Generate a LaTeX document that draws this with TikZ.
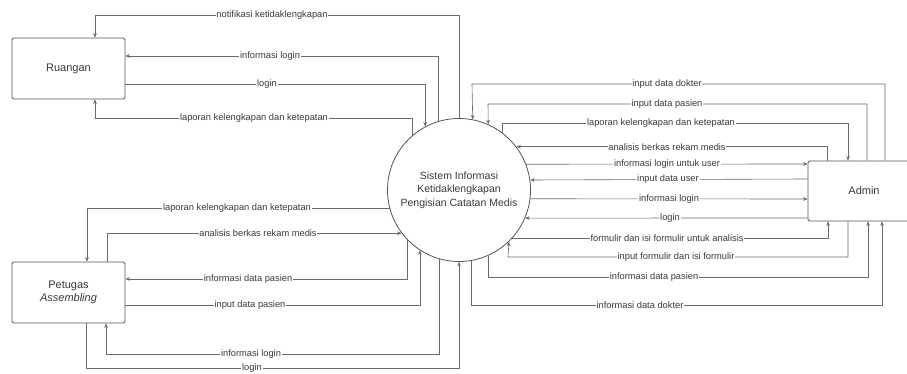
\documentclass[tikz,border=0pt]{standalone}
\usepackage{fontspec}
\setmainfont{Liberation Sans}
\usetikzlibrary{arrows.meta}
\definecolor{ln}{HTML}{6A6A6A}
\definecolor{tx}{HTML}{3A3A3A}
\definecolor{bd}{HTML}{555555}
\tikzset{
  ent/.style={draw=bd, line width=0.8pt, rounded corners=1.5pt, fill=white, minimum width=113pt, minimum height=61pt, text=tx, font=\fontsize{11}{13}\selectfont, align=center, inner sep=0pt},
  proc/.style={draw=bd, line width=0.8pt, circle, minimum size=143pt, inner sep=0pt, text=tx, font=\fontsize{10.5}{13.5}\selectfont, align=center},
  flow/.style={draw=ln, line width=0.6pt},
  arr/.style={flow, -{Stealth[length=4.5pt,width=3.6pt]}},
  lbl/.style={fill=white, text=tx, font=\fontsize{9.3}{10}\selectfont, inner sep=0.8pt}
}
\begin{document}
\begin{tikzpicture}[x=1pt,y=-1pt]
\useasboundingbox (0,0) rectangle (907,374);
\fill[white] (0,0) rectangle (907,374);
% nodes
\node[proc] (c) at (459,190) {Sistem Informasi\\Ketidaklengkapan\\Pengisian Catatan Medis};
\node[ent] (R) at (68.5,68.5) {Ruangan};
\node[ent] (P) at (68.5,292.5) {Petugas\\\textit{Assembling}};
\node[ent, minimum width=112pt, minimum height=60pt] (A) at (864,191) {Admin};

% Ruangan flows
\draw[arr] (c.90) |- (95,15) -- (R.north -| 95,0);
\draw[arr] (c.107.9) |- (R.east |- 0,56);
\draw[arr] (R.east |- 0,84) -| (c.118.4);
\draw[arr] (c.130.1) |- (95,118) -- (R.south -| 95,0);

% Petugas flows
\draw[arr] (c.-165.4) -| (P.north -| 87,0);
\draw[arr] (P.north -| 107,0) |- (c.-143);
\draw[arr] (c.-136.6) |- (P.east |- 0,279);
\draw[arr] (P.east |- 0,305) -| (c.-123.1);
\draw[arr] (c.-106.3) |- (106,354) -- (P.south -| 106,0);
\draw[arr] (P.south -| 86,0) |- (459,368) -- (c.-90);

% Admin flows
\draw[arr] (A.north -| 885,0) |- (472,84) -- (c.79.5);
\draw[arr] (A.north -| 867,0) |- (488,104) -- (c.66.1);
\draw[arr] (c.53) |- (848,123) -- (A.north -| 848,0);
\draw[arr] (A.north -| 827,0) |- (c.37);
\draw[arr] (c.21.3) -- (A.west |- 0,164);
\draw[arr] (A.west |- 0,179) -- (c.8.9);
\draw[arr] (c.-7.2) -- (A.west |- 0,199);
\draw[arr] (A.west |- 0,218) -- (c.-23.1);
\draw[arr] (c.-42.2) -| (A.south -| 828,0);
\draw[arr] (A.south -| 848,0) |- (508,257) -- (c.-46.8);
\draw[arr] (c.-66.1) |- (868,277) -- (A.south -| 868,0);
\draw[arr] (c.-80.3) |- (882,305) -- (A.south -| 882,0);

% labels left
\node[lbl] (l1) at (272,15) {notifikasi ketidaklengkapan};
\node[lbl] (l2) at (270,56) {informasi login};
\node[lbl] (l3) at (267,84) {login};
\node[lbl] (l4) at (254,118) {laporan kelengkapan dan ketepatan};
\node[lbl] (l5) at (237,208) {laporan kelengkapan dan ketepatan};
\node[lbl] (l6) at (258,233) {analisis berkas rekam medis};
\node[lbl] (l7) at (248,279) {informasi data pasien};
\node[lbl] (l8) at (250,305) {input data pasien};
\node[lbl] (l9) at (251,354) {informasi login};
\node[lbl] (l10) at (252,368) {login};
% labels right
\node[lbl] (r1) at (667,84) {input data dokter};
\node[lbl] (r2) at (667,104) {input data pasien};
\node[lbl] (r3) at (661,123) {laporan kelengkapan dan ketepatan};
\node[lbl] (r4) at (667,147) {analisis berkas rekam medis};
\node[lbl] (r5) at (667,164) {informasi login untuk user};
\node[lbl] (r6) at (668,179) {input data user};
\node[lbl] (r7) at (669,199) {informasi login};
\node[lbl] (r8) at (670,218) {login};
\node[lbl] (r9) at (667,238) {formulir dan isi formulir untuk analisis};
\node[lbl] (r10) at (676,257) {input formulir dan isi formulir};
\node[lbl] (r11) at (654,277) {informasi data pasien};
\node[lbl] (r12) at (640,305) {informasi data dokter};
\end{tikzpicture}
\end{document}
